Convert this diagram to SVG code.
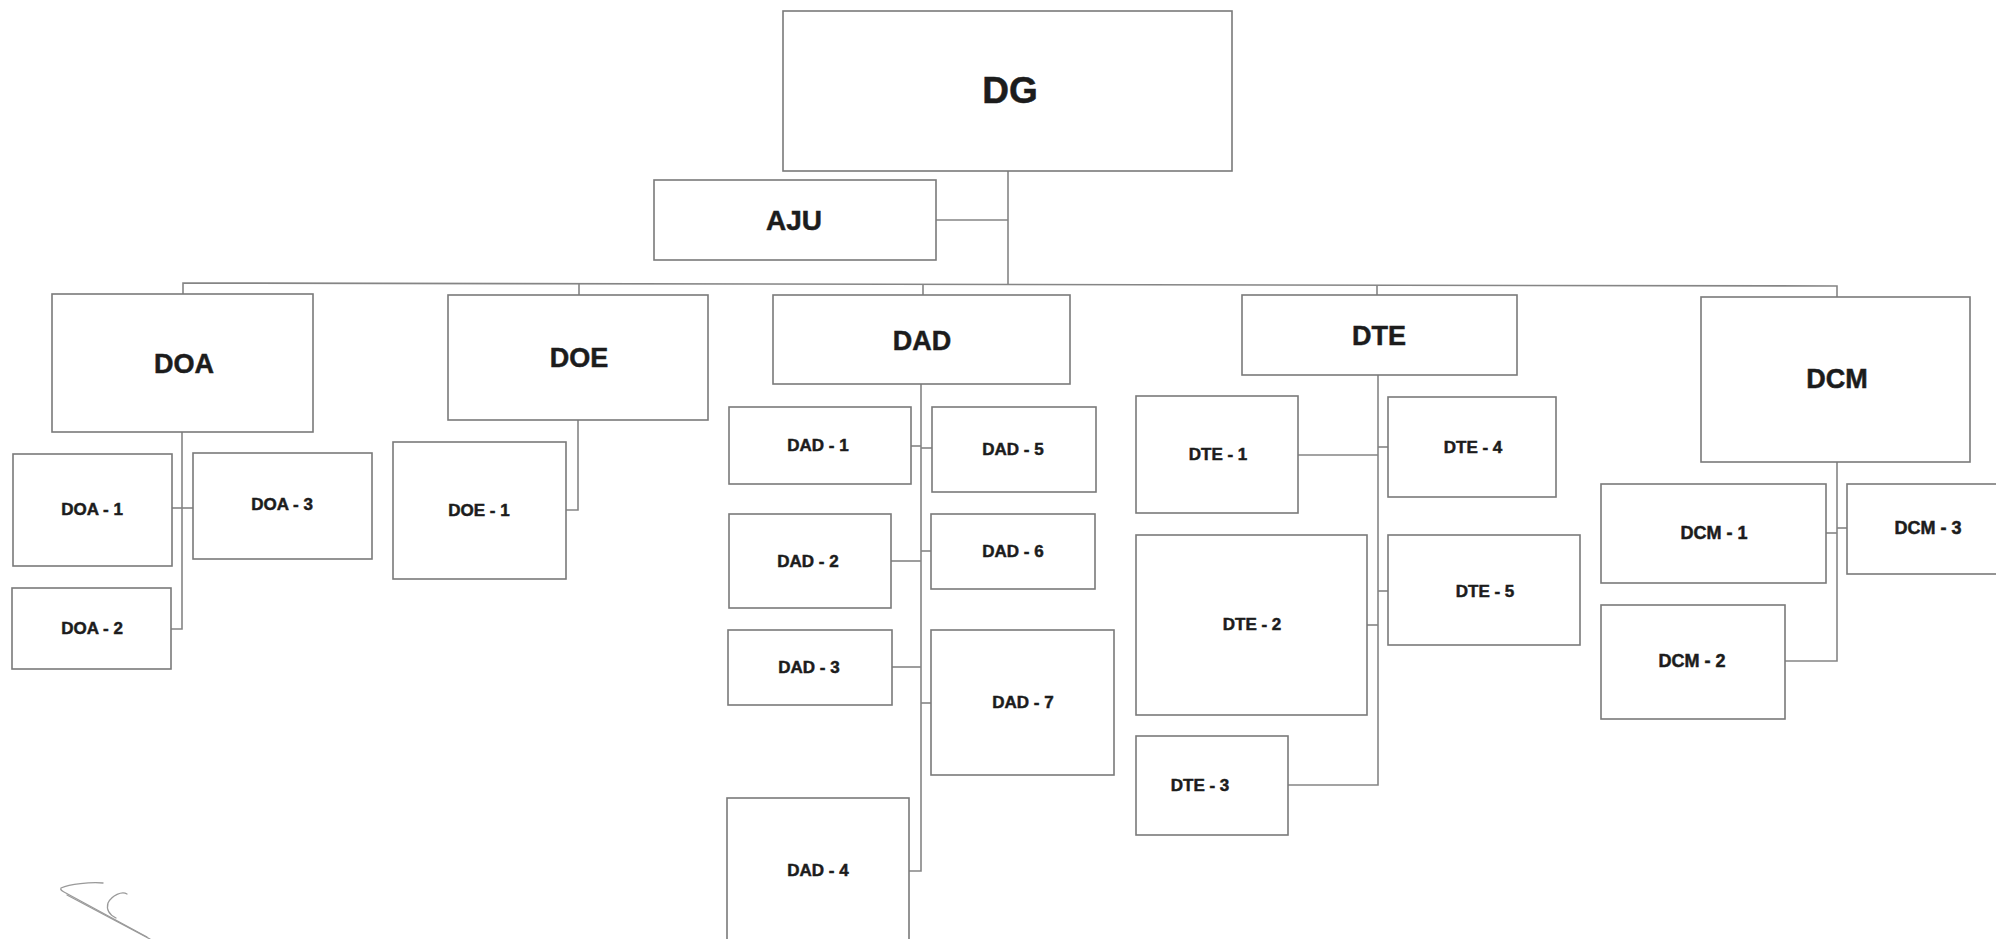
<svg xmlns="http://www.w3.org/2000/svg" width="1996" height="939" viewBox="0 0 1996 939">
<style>
.box{fill:#fff;stroke:#7a7a7a;stroke-width:1.6}
.ln{fill:none;stroke:#858585;stroke-width:1.6}
.t{font-family:"Liberation Sans",Arial,sans-serif;font-weight:bold;fill:#1c1c1c;stroke:#1c1c1c;stroke-width:0.5;text-anchor:middle}
.big{font-size:27px}
.sm{font-size:17px}
.mark{fill:none;stroke:#9a9a9a;stroke-width:1.3;stroke-linecap:round}
</style>
<rect width="1996" height="939" fill="#fff"/>
<g id="connectors">
<line class="ln" x1="1008" y1="171" x2="1008" y2="284"/>
<line class="ln" x1="936" y1="220" x2="1008" y2="220"/>
<path class="ln" d="M183,294 V283 L1837,286 V297"/>
<line class="ln" x1="579" y1="283" x2="579" y2="295"/>
<line class="ln" x1="923" y1="284" x2="923" y2="295"/>
<line class="ln" x1="1377" y1="285" x2="1377" y2="295"/>
<path class="ln" d="M182,432 V629 H171"/>
<line class="ln" x1="172" y1="508" x2="193" y2="508"/>
<path class="ln" d="M578,420 V510 H566"/>
<path class="ln" d="M921,384 V871 H909"/>
<line class="ln" x1="911" y1="446" x2="921" y2="446"/>
<line class="ln" x1="921" y1="448" x2="932" y2="448"/>
<line class="ln" x1="891" y1="561" x2="921" y2="561"/>
<line class="ln" x1="921" y1="551" x2="931" y2="551"/>
<line class="ln" x1="892" y1="667" x2="921" y2="667"/>
<line class="ln" x1="921" y1="703" x2="931" y2="703"/>
<path class="ln" d="M1378,375 V785 H1288"/>
<line class="ln" x1="1298" y1="455" x2="1378" y2="455"/>
<line class="ln" x1="1378" y1="447" x2="1388" y2="447"/>
<line class="ln" x1="1367" y1="625" x2="1378" y2="625"/>
<line class="ln" x1="1378" y1="591" x2="1388" y2="591"/>
<path class="ln" d="M1837,462 V661 H1785"/>
<line class="ln" x1="1826" y1="533" x2="1837" y2="533"/>
<line class="ln" x1="1837" y1="528" x2="1847" y2="528"/>
</g>
<g id="DG"><rect class="box" x="783" y="11" width="449" height="160"/><text class="t" x="1010" y="103" font-size="37">DG</text></g>
<g id="AJU"><rect class="box" x="654" y="180" width="282" height="80"/><text class="t" x="794" y="230" font-size="28">AJU</text></g>
<g id="DOA"><rect class="box" x="52" y="294" width="261" height="138"/><text class="t big" x="184" y="373">DOA</text></g>
<g id="DOE"><rect class="box" x="448" y="295" width="260" height="125"/><text class="t big" x="579" y="367">DOE</text></g>
<g id="DAD"><rect class="box" x="773" y="295" width="297" height="89"/><text class="t big" x="922" y="350">DAD</text></g>
<g id="DTE"><rect class="box" x="1242" y="295" width="275" height="80"/><text class="t big" x="1379" y="345">DTE</text></g>
<g id="DCM"><rect class="box" x="1701" y="297" width="269" height="165"/><text class="t big" x="1837" y="388">DCM</text></g>
<g id="DOA-1"><rect class="box" x="13" y="454" width="159" height="112"/><text class="t sm" x="92" y="515">DOA - 1</text></g>
<g id="DOA-2"><rect class="box" x="12" y="588" width="159" height="81"/><text class="t sm" x="92" y="634">DOA - 2</text></g>
<g id="DOA-3"><rect class="box" x="193" y="453" width="179" height="106"/><text class="t sm" x="282" y="510">DOA - 3</text></g>
<g id="DOE-1"><rect class="box" x="393" y="442" width="173" height="137"/><text class="t sm" x="479" y="516">DOE - 1</text></g>
<g id="DAD-1"><rect class="box" x="729" y="407" width="182" height="77"/><text class="t sm" x="818" y="451">DAD - 1</text></g>
<g id="DAD-2"><rect class="box" x="729" y="514" width="162" height="94"/><text class="t sm" x="808" y="567">DAD - 2</text></g>
<g id="DAD-3"><rect class="box" x="728" y="630" width="164" height="75"/><text class="t sm" x="809" y="673">DAD - 3</text></g>
<g id="DAD-4"><rect class="box" x="727" y="798" width="182" height="160"/><text class="t sm" x="818" y="876">DAD - 4</text></g>
<g id="DAD-5"><rect class="box" x="932" y="407" width="164" height="85"/><text class="t sm" x="1013" y="455">DAD - 5</text></g>
<g id="DAD-6"><rect class="box" x="931" y="514" width="164" height="75"/><text class="t sm" x="1013" y="557">DAD - 6</text></g>
<g id="DAD-7"><rect class="box" x="931" y="630" width="183" height="145"/><text class="t sm" x="1023" y="708">DAD - 7</text></g>
<g id="DTE-1"><rect class="box" x="1136" y="396" width="162" height="117"/><text class="t sm" x="1218" y="460">DTE - 1</text></g>
<g id="DTE-2"><rect class="box" x="1136" y="535" width="231" height="180"/><text class="t sm" x="1252" y="630">DTE - 2</text></g>
<g id="DTE-3"><rect class="box" x="1136" y="736" width="152" height="99"/><text class="t sm" x="1200" y="791">DTE - 3</text></g>
<g id="DTE-4"><rect class="box" x="1388" y="397" width="168" height="100"/><text class="t sm" x="1473" y="453">DTE - 4</text></g>
<g id="DTE-5"><rect class="box" x="1388" y="535" width="192" height="110"/><text class="t sm" x="1485" y="597">DTE - 5</text></g>
<g id="DCM-1"><rect class="box" x="1601" y="484" width="225" height="99"/><text class="t" x="1714" y="539" font-size="18">DCM - 1</text></g>
<g id="DCM-2"><rect class="box" x="1601" y="605" width="184" height="114"/><text class="t" x="1692" y="667" font-size="18">DCM - 2</text></g>
<g id="DCM-3"><rect class="box" x="1847" y="484" width="160" height="90"/><text class="t" x="1928" y="534" font-size="18">DCM - 3</text></g>
<path class="mark" d="M103,883 C90,882 70,884 61,888 C60,890 62,891 64,892 L147,937"/>
<path class="mark" d="M67,895 L150,939"/>
<path class="mark" d="M127,894 C122,891 112,895 108,903 C106,910 110,915 116,918"/>
</svg>
